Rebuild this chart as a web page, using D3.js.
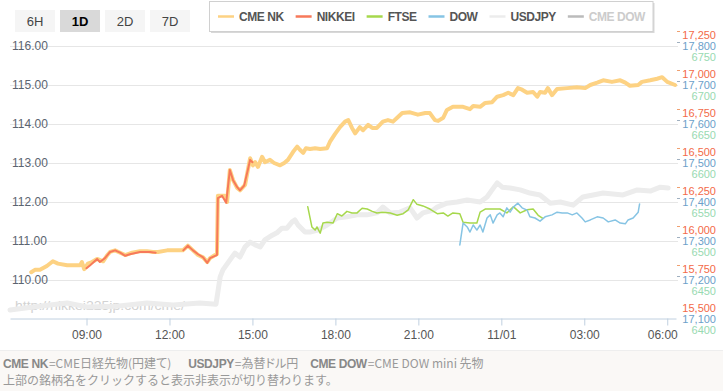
<!DOCTYPE html>
<html><head><meta charset="utf-8">
<script src="https://cdn.jsdelivr.net/npm/d3@7/dist/d3.min.js"></script>
<style>
html,body{margin:0;padding:0;background:#fff;overflow:hidden;}
svg{display:block;font-family:"Liberation Sans",Arial,sans-serif;}
.palt{font-feature-settings:"palt";}
</style></head><body><svg id="c" width="723" height="391"></svg>
<script>
// ---------- DATA ----------
const ranges = ["6H", "1D", "2D", "7D"];
const activeRange = "1D";
const legendNames = ["CME NK", "NIKKEI", "FTSE", "DOW", "USDJPY", "CME DOW"];
const legendColors = ["#fdd283", "#f7795a", "#a6d84c", "#86c4e4", "#ececec", "#bbbbbb"];
const legendHidden = [false, false, false, false, false, true];

const usdTicks = [110, 111, 112, 113, 114, 115, 116];
const nikkeiTicks = [15500, 15750, 16000, 16250, 16500, 16750, 17000, 17250];
const dowTicks = [17100, 17200, 17300, 17400, 17500, 17600, 17700, 17800];
const ftseTicks = [6400, 6450, 6500, 6550, 6600, 6650, 6700, 6750];

const cmeNk = [
 ["10/31 07:00",15800],["10/31 07:08",15815],["10/31 07:19",15815],["10/31 07:34",15840],["10/31 07:47",15870],
 ["10/31 07:58",15855],["10/31 08:18",15845],["10/31 08:46",15845],["10/31 08:50",15865],["10/31 08:55",15820],
 ["10/31 09:03",15855],["10/31 09:12",15865],["10/31 09:23",15885],["10/31 09:36",15870],["10/31 09:44",15905],
 ["10/31 09:51",15930],["10/31 10:02",15940],["10/31 10:13",15925],["10/31 10:24",15910],["10/31 10:39",15925],
 ["10/31 10:56",15935],["10/31 11:11",15935],["10/31 11:24",15930],["10/31 11:35",15930],["10/31 11:55",15940],
 ["10/31 12:12",15940],["10/31 12:29",15940],["10/31 12:40",15970],["10/31 12:51",15940],["10/31 13:02",15910],
 ["10/31 13:13",15895],["10/31 13:22",15865],["10/31 13:28",15890],["10/31 13:39",15910],["10/31 13:43",15915],
 ["10/31 13:45",16290],["10/31 13:52",16290],["10/31 14:00",16290],["10/31 14:05",16250],["10/31 14:11",16455],
 ["10/31 14:18",16390],["10/31 14:27",16340],["10/31 14:33",16325],["10/31 14:44",16360],["10/31 14:50",16455],
 ["10/31 14:55",16530],["10/31 15:01",16485],["10/31 15:06",16505],["10/31 15:12",16475],["10/31 15:21",16540],
 ["10/31 15:27",16505],["10/31 15:38",16520],["10/31 15:47",16500],["10/31 16:00",16485],["10/31 16:09",16500],
 ["10/31 16:17",16520],["10/31 16:28",16570],["10/31 16:37",16605],["10/31 16:43",16585],["10/31 16:50",16565],
 ["10/31 16:56",16595],["10/31 17:05",16590],["10/31 17:16",16595],["10/31 17:27",16590],["10/31 17:42",16595],
 ["10/31 17:48",16635],["10/31 17:59",16685],["10/31 18:10",16730],["10/31 18:21",16765],["10/31 18:28",16775],
 ["10/31 18:36",16725],["10/31 18:43",16690],["10/31 18:53",16730],["10/31 19:00",16710],["10/31 19:11",16745],
 ["10/31 19:20",16725],["10/31 19:30",16725],["10/31 19:43",16765],["10/31 19:54",16775],["10/31 20:05",16765],
 ["10/31 20:14",16790],["10/31 20:25",16820],["10/31 20:42",16825],["10/31 20:59",16810],["10/31 21:15",16820],
 ["10/31 21:25",16820],["10/31 21:36",16775],["10/31 21:43",16770],["10/31 21:54",16790],["10/31 22:02",16840],
 ["10/31 22:15",16860],["10/31 22:37",16860],["10/31 22:52",16845],["10/31 22:59",16865],["10/31 23:14",16860],
 ["10/31 23:25",16885],["10/31 23:40",16890],["10/31 23:51",16925],["11/01 00:04",16935],["11/01 00:15",16950],
 ["11/01 00:26",16935],["11/01 00:36",16980],["11/01 00:45",16970],["11/01 00:56",16950],["11/01 01:09",16955],
 ["11/01 01:18",16925],["11/01 01:24",16955],["11/01 01:35",16950],["11/01 01:41",16980],["11/01 01:50",16935],
 ["11/01 02:01",16975],["11/01 02:23",16980],["11/01 02:44",16985],["11/01 03:02",16980],["11/01 03:13",17000],
 ["11/01 03:28",17015],["11/01 03:41",17030],["11/01 04:00",17020],["11/01 04:18",17030],["11/01 04:29",17015],
 ["11/01 04:39",16995],["11/01 04:57",17000],["11/01 05:05",17020],["11/01 05:23",17030],["11/01 05:38",17040],
 ["11/01 05:49",17050],["11/01 06:00",17020],["11/01 06:17",17000]
];

const nikkei = [
 ["10/31 09:00",15825],["10/31 09:08",15845],["10/31 09:23",15885],["10/31 09:29",15865],["10/31 09:40",15890],
 ["10/31 09:51",15930],["10/31 10:02",15940],["10/31 10:13",15925],["10/31 10:24",15905],["10/31 10:34",15915],
 ["10/31 10:56",15930],["10/31 11:18",15930],["10/31 11:30",15925],["10/31 11:31",null],
 ["10/31 12:30",15940],["10/31 12:40",15970],["10/31 12:51",15940],["10/31 13:02",15915],["10/31 13:13",15895],
 ["10/31 13:22",15860],["10/31 13:28",15890],["10/31 13:39",15905],["10/31 13:43",15910],["10/31 13:45",16275],
 ["10/31 13:54",16290],["10/31 14:03",16245],["10/31 14:11",16455],["10/31 14:18",16390],["10/31 14:27",16345],
 ["10/31 14:33",16325],["10/31 14:42",16355],["10/31 14:50",16455],["10/31 14:55",16520],["10/31 15:00",16505]
];

const ftse = [
 ["10/31 17:00",6544],["10/31 17:09",6518],["10/31 17:16",6514],["10/31 17:20",6518],["10/31 17:27",6510],
 ["10/31 17:33",6523],["10/31 17:42",6524],["10/31 17:55",6523],["10/31 18:04",6535],["10/31 18:14",6532],
 ["10/31 18:25",6538],["10/31 18:36",6536],["10/31 18:47",6536],["10/31 18:58",6542],["10/31 19:09",6541],
 ["10/31 19:20",6538],["10/31 19:30",6536],["10/31 19:43",6537],["10/31 19:59",6536],["10/31 20:14",6533],
 ["10/31 20:27",6535],["10/31 20:38",6540],["10/31 20:49",6553],["10/31 20:57",6547],["10/31 21:10",6545],
 ["10/31 21:25",6541],["10/31 21:41",6535],["10/31 21:54",6536],["10/31 22:04",6532],["10/31 22:15",6536],
 ["10/31 22:30",6535],["10/31 22:37",6524],["10/31 22:52",6523],["10/31 23:07",6523],["10/31 23:14",6537],
 ["10/31 23:25",6541],["10/31 23:40",6541],["10/31 23:57",6541],["11/01 00:12",6536],["11/01 00:26",6544],
 ["11/01 00:41",6536],["11/01 00:56",6540],["11/01 01:09",6541],["11/01 01:20",6533],["11/01 01:30",6529]
];

const dow = [
 ["10/31 22:30",17290],["10/31 22:37",17346],["10/31 22:46",17336],["10/31 22:52",17323],["10/31 22:59",17341],
 ["10/31 23:07",17328],["10/31 23:14",17341],["10/31 23:20",17323],["10/31 23:29",17359],["10/31 23:36",17367],
 ["10/31 23:42",17346],["10/31 23:51",17367],["10/31 23:57",17372],["11/01 00:04",17362],["11/01 00:12",17385],
 ["11/01 00:19",17374],["11/01 00:26",17387],["11/01 00:36",17397],["11/01 00:45",17385],["11/01 00:56",17379],
 ["11/01 01:02",17362],["11/01 01:13",17359],["11/01 01:24",17351],["11/01 01:35",17362],["11/01 01:50",17367],
 ["11/01 02:01",17374],["11/01 02:12",17372],["11/01 02:23",17372],["11/01 02:34",17367],["11/01 02:44",17372],
 ["11/01 02:55",17359],["11/01 03:02",17349],["11/01 03:13",17354],["11/01 03:28",17362],["11/01 03:41",17359],
 ["11/01 03:52",17349],["11/01 04:07",17354],["11/01 04:18",17346],["11/01 04:29",17344],["11/01 04:35",17354],
 ["11/01 04:46",17359],["11/01 04:57",17374],["11/01 05:00",17395]
];

const usdjpy = [
 ["10/31 06:14",109.23],["10/31 07:04",109.31],["10/31 07:41",109.36],["10/31 08:18",109.41],["10/31 09:01",109.31],
 ["10/31 10:06",109.33],["10/31 11:11",109.41],["10/31 12:08",109.36],["10/31 13:06",109.41],["10/31 13:41",109.38],
 ["10/31 13:50",110.08],["10/31 13:56",110.26],["10/31 14:11",110.51],["10/31 14:22",110.69],["10/31 14:33",110.59],
 ["10/31 14:44",110.85],["10/31 14:55",110.97],["10/31 15:06",110.90],["10/31 15:17",110.85],["10/31 15:27",111.03],
 ["10/31 15:43",111.15],["10/31 15:53",111.21],["10/31 16:04",111.33],["10/31 16:15",111.33],["10/31 16:26",111.49],
 ["10/31 16:32",111.54],["10/31 16:39",111.41],["10/31 16:54",111.23],["10/31 17:05",111.23],["10/31 17:22",111.28],
 ["10/31 17:42",111.41],["10/31 18:04",111.59],["10/31 18:25",111.62],["10/31 18:47",111.67],["10/31 19:09",111.67],
 ["10/31 19:30",111.72],["10/31 19:43",111.87],["10/31 19:59",111.72],["10/31 20:20",111.74],["10/31 20:42",111.85],
 ["10/31 20:57",111.59],["10/31 21:10",111.72],["10/31 21:32",111.79],["10/31 21:41",111.87],["10/31 22:02",111.97],
 ["10/31 22:24",112.00],["10/31 22:46",112.05],["10/31 23:14",112.00],["10/31 23:29",112.13],["10/31 23:40",112.31],
 ["10/31 23:51",112.49],["11/01 00:02",112.38],["11/01 00:19",112.36],["11/01 00:41",112.31],["11/01 01:02",112.23],
 ["11/01 01:24",112.18],["11/01 01:46",111.97],["11/01 02:08",112.00],["11/01 02:36",111.92],["11/01 02:57",112.13],
 ["11/01 03:41",112.23],["11/01 04:24",112.18],["11/01 04:55",112.31],["11/01 05:23",112.28],["11/01 05:45",112.38],
 ["11/01 06:02",112.36]
];

const footerLine1 = [
 {b:"CME NK", t:"=CME日経先物(円建て)"},
 {b:"USDJPY", t:"=為替ドル円"},
 {b:"CME DOW", t:"=CME DOW mini 先物"}
];
const footerLine2 = "上部の銘柄名をクリックすると表示非表示が切り替わります。";
const watermark = "http://nikkei225jp.com/cme/";

// ---------- CHART ----------
const parse = d3.timeParse("%Y/%m/%d %H:%M");
const P = s => parse("2014/" + s);
const svg = d3.select("#c");

const x = d3.scaleTime().domain([P("10/31 06:14"), P("11/01 06:19")]).range([10, 676]);
const yUsd = d3.scaleLinear().domain([109, 116]).range([319, 46]);
const yNk = d3.scaleLinear().domain([15500, 17250]).range([319, 46]);
const yDow = d3.scaleLinear().domain([17100, 17800]).range([319, 46]);
const yFtse = d3.scaleLinear().domain([6400, 6750]).range([319, 46]);

// grid
svg.append("g").selectAll("line").data(usdTicks).join("line")
  .attr("x1", 10).attr("x2", 678)
  .attr("y1", d => Math.round(yUsd(d)) + 0.5).attr("y2", d => Math.round(yUsd(d)) + 0.5)
  .attr("stroke", "#e6e6e6");

// small tick dashes near right axes
usdTicks.forEach(v => {
  const gy = Math.round(yUsd(v));
  svg.append("line").attr("x1", 677).attr("x2", 680).attr("y1", gy - 14.5).attr("y2", gy - 14.5).attr("stroke", "#f0a070");
  svg.append("line").attr("x1", 677).attr("x2", 680).attr("y1", gy - 3.5).attr("y2", gy - 3.5).attr("stroke", "#a0b0c0");
});

// watermark
svg.append("text").attr("x", 15).attr("y", 310).text(watermark)
  .attr("font-size", 13.5).attr("fill", "#d2d2d2").attr("textLength", 170).attr("lengthAdjust", "spacingAndGlyphs");

// left axis
const gl = svg.append("g").attr("transform", "translate(10,0)")
  .call(d3.axisRight(yUsd).tickValues(usdTicks).tickSize(0).tickPadding(2).tickFormat(d3.format(".2f")));
gl.select(".domain").remove();
gl.selectAll("text").attr("font-size", 12).attr("fill", "#5b6470").attr("font-family", "Liberation Sans, Arial, sans-serif");

// right axes
function rightAxis(scale, ticks, dy, color, fmt) {
  const g = svg.append("g").attr("transform", `translate(718,${dy})`)
    .call(d3.axisLeft(scale).tickValues(ticks).tickSize(0).tickPadding(2).tickFormat(fmt));
  g.select(".domain").remove();
  g.selectAll("text").attr("font-size", 11).attr("fill", color).attr("font-family", "Liberation Sans, Arial, sans-serif");
}
rightAxis(yNk, nikkeiTicks, -11, "#f36a48", d3.format(","));
rightAxis(yDow, dowTicks, 0, "#6c9fca", d3.format(","));
rightAxis(yFtse, ftseTicks, 11, "#98dab1", d3.format("d"));

// x axis
const fmtTick = d => (d.getHours() === 0 ? d3.timeFormat("%m/%d")(d) : d3.timeFormat("%H:%M")(d));
const gx = svg.append("g").attr("transform", "translate(0,318.5)")
  .call(d3.axisBottom(x).ticks(d3.timeHour.every(3)).tickSize(7).tickSizeOuter(0).tickPadding(5).tickFormat(fmtTick));
gx.select(".domain").attr("stroke", "#c0d0e0");
gx.selectAll(".tick line").attr("stroke", "#c0d0e0");
gx.selectAll("text").attr("font-size", 12).attr("fill", "#555").attr("font-family", "Liberation Sans, Arial, sans-serif");
gx.selectAll(".tick").filter((d, i, n) => i === n.length - 1).select("text").attr("dx", -5);

// lines
function drawLine(data, y, color, width) {
  const line = d3.line().defined(d => d[1] !== null).x(d => x(P(d[0]))).y(d => y(d[1])).curve(d3.curveLinear);
  svg.append("path").datum(data).attr("d", line).attr("fill", "none")
    .attr("stroke", color).attr("stroke-width", width).attr("stroke-linejoin", "round").attr("stroke-linecap", "round");
}
drawLine(usdjpy, yUsd, legendColors[4], 5);
drawLine(cmeNk, yNk, legendColors[0], 4);
drawLine(nikkei, yNk, legendColors[1], 2);
drawLine(ftse, yFtse, legendColors[2], 1.5);
drawLine(dow, yDow, legendColors[3], 1.5);

// range buttons
const bg = svg.append("g");
ranges.forEach((r, i) => {
  const bx = 15 + i * 45;
  bg.append("rect").attr("x", bx).attr("y", 10).attr("width", 40).attr("height", 22)
    .attr("fill", r === activeRange ? "#d9d9d9" : "#f5f5f5");
  bg.append("text").attr("x", bx + 20).attr("y", 25.5).attr("text-anchor", "middle")
    .attr("font-size", 13).attr("font-weight", r === activeRange ? "bold" : "normal")
    .attr("fill", r === activeRange ? "#000" : "#444").text(r);
});

// legend
const lg = svg.append("g");
const shadow = lg.append("rect").attr("x", 211).attr("y", 3).attr("height", 30).attr("fill", "#d8d8d8");
const box = lg.append("rect").attr("x", 209.5).attr("y", 1.5).attr("height", 30).attr("fill", "#fff").attr("stroke", "#d0d0d0");
let lx = 218;
legendNames.forEach((n, i) => {
  lg.append("line").attr("x1", lx).attr("x2", lx + 16).attr("y1", 16.5).attr("y2", 16.5)
    .attr("stroke", legendColors[i]).attr("stroke-width", 2.5);
  const t = lg.append("text").attr("x", lx + 21).attr("y", 21).attr("font-size", 12).attr("font-weight", "bold")
    .attr("letter-spacing", -0.45)
    .attr("fill", legendHidden[i] ? "#cccccc" : "#555").text(n);
  lx = lx + 21 + t.node().getComputedTextLength() + 12;
});
const bw = lx - 12 + 8 - 209.5;
box.attr("width", bw);
shadow.attr("width", bw);

// footer
svg.append("rect").attr("x", 0).attr("y", 351).attr("width", 723).attr("height", 40).attr("fill", "#faf8f6");
svg.append("line").attr("x1", 0).attr("x2", 723).attr("y1", 350.5).attr("y2", 350.5).attr("stroke", "#eeeeee");
const gaps = [17, 12];
let fxPos = 3;
footerLine1.forEach((f, i) => {
  const tb = svg.append("text").attr("x", fxPos).attr("y", 367.5)
    .attr("font-size", 12).attr("font-weight", "bold").attr("fill", "#888")
    .attr("font-family", "'Liberation Sans', Arial, sans-serif").attr("letter-spacing", -0.4).text(f.b);
  fxPos += tb.node().getComputedTextLength() + 1;
  const tn = svg.append("text").attr("x", fxPos).attr("y", 367.5).attr("class", "palt")
    .attr("font-size", 12).attr("fill", "#999")
    .attr("font-family", "'Noto Sans CJK JP', sans-serif").text(f.t);
  fxPos += tn.node().getComputedTextLength() + (gaps[i] || 0);
});
svg.append("text").attr("x", 3).attr("y", 384.5).attr("font-size", 12)
  .attr("font-family", "'Noto Sans CJK JP', sans-serif").attr("fill", "#999").text(footerLine2);
</script></body></html>
